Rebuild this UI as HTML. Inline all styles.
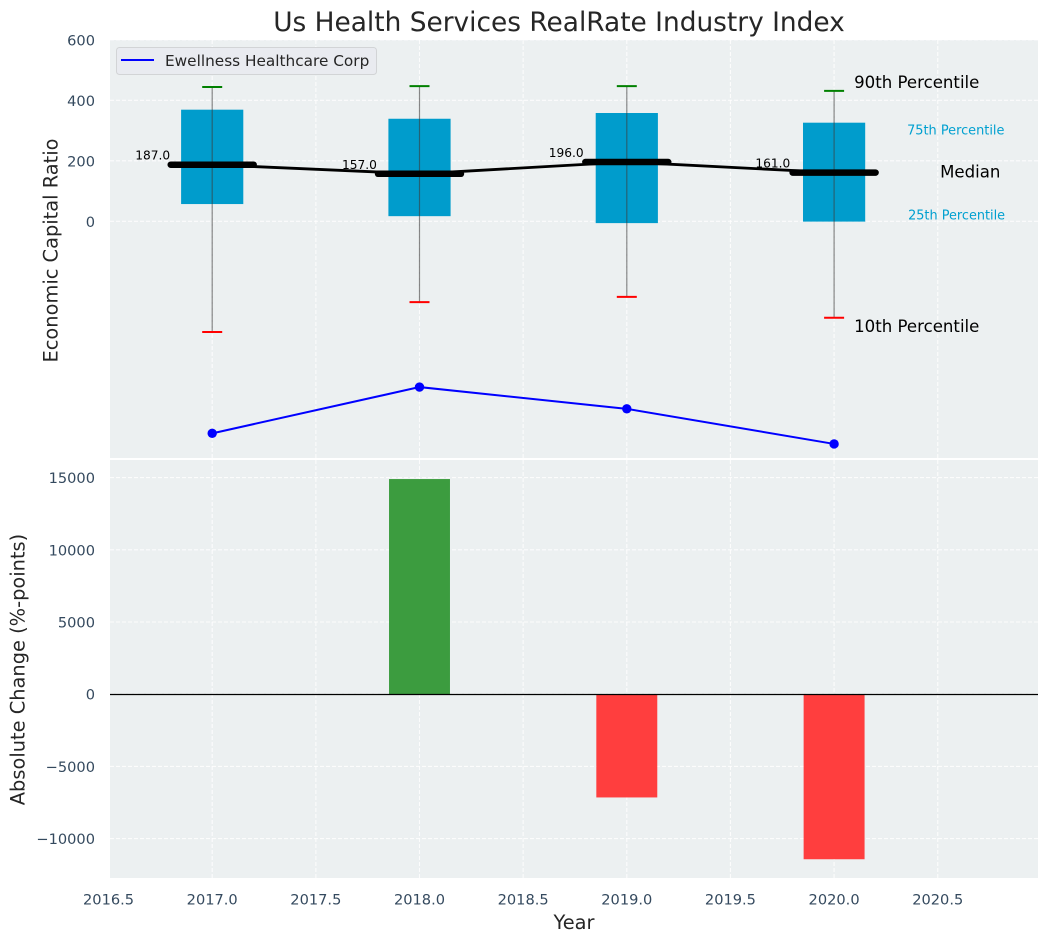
<!DOCTYPE html>
<html lang="en">
<head>
<meta charset="utf-8">
<title>Us Health Services RealRate Industry Index</title>
<style>
html,body{margin:0;padding:0;background:#fff;width:1048px;height:942px;overflow:hidden}
svg{display:block;font-family:"DejaVu Sans","Liberation Sans",sans-serif}
</style>
</head>
<body>
<svg id="chart" xmlns="http://www.w3.org/2000/svg" width="1048" height="942" viewBox="0 0 1048 942">
  <rect x="0" y="0" width="1048" height="942" fill="#ffffff"/>
  <rect x="110" y="40" width="928" height="418" fill="#ecf0f1"/>
  <rect x="110" y="460" width="928" height="418" fill="#ecf0f1"/>
  <g id="grid"></g>
  <g id="bars"></g>
  <line x1="110" x2="1038" y1="694.5" y2="694.5" stroke="#000" stroke-width="1.2"/>
  <g id="boxes"></g>
  <g id="series"></g>
  <g id="ticks"></g>

  <text x="559" y="31" text-anchor="middle" font-size="26.4" fill="#262626">Us Health Services RealRate Industry Index</text>
  <text transform="translate(57.5,250.5) rotate(-90)" text-anchor="middle" font-size="19.4" fill="#262626">Economic Capital Ratio</text>
  <text transform="translate(24.5,669.5) rotate(-90)" text-anchor="middle" font-size="19.4" fill="#262626">Absolute Change (%-points)</text>
  <text x="574" y="929" text-anchor="middle" font-size="19.4" fill="#262626">Year</text>

  <g>
    <rect x="116.5" y="47.5" width="260" height="27" rx="3" fill="#e9ebf0" stroke="#d2d4d6" stroke-width="1"/>
    <line x1="121" x2="154" y1="60" y2="60" stroke="#0000ff" stroke-width="2"/>
    <text x="165" y="66" font-size="15.3" fill="#262626">Ewellness Healthcare Corp</text>
  </g>

  <text id="ann90" font-size="16.6" fill="#000">90th Percentile</text>
  <text id="ann75" font-size="12.9" fill="#00a0d0">75th Percentile</text>
  <text id="annMed" font-size="16.6" fill="#000">Median</text>
  <text id="ann25" font-size="12.85" fill="#00a0d0">25th Percentile</text>
  <text id="ann10" font-size="16.6" fill="#000">10th Percentile</text>
</svg>
<script>
const years = [2017, 2018, 2019, 2020];
const p90 = [444, 447, 447, 431];
const p75 = [369, 339, 358, 326];
const medians = [187, 157, 196, 161];
const p25 = [57, 17, -6, -1];
const p10 = [-366, -267, -250, -319];
const company = [-701, -548, -620, -736];
const changes = [0, 14900, -7150, -11430];
const xTicks = [2016.5, 2017, 2017.5, 2018, 2018.5, 2019, 2019.5, 2020, 2020.5];
const topYTicks = [600, 400, 200, 0];
const bottomYTicks = [15000, 10000, 5000, 0, -5000, -10000];

const NS = 'http://www.w3.org/2000/svg';
function x(v) { return 212.2 + (v - 2017) * 207.3; }
function yTop(v) { return 221.3 - v * 0.3025; }
function yBottom(v) { return 694.2 - v * 0.014440; }

function make(parent, tag, props, text) {
  const el = document.createElementNS(NS, tag);
  for (const k in props) el.setAttribute(k, props[k]);
  if (text !== undefined) el.textContent = text;
  parent.appendChild(el);
  return el;
}

const gridG = document.getElementById('grid');
const barsG = document.getElementById('bars');
const boxesG = document.getElementById('boxes');
const seriesG = document.getElementById('series');
const ticksG = document.getElementById('ticks');
const gridStyle = { stroke: '#ffffff', 'stroke-width': 1.1, 'stroke-dasharray': '4 2', opacity: 0.85 };

xTicks.forEach(function (t) {
  if (x(t) >= 110) {
    const a = make(gridG, 'line', Object.assign({ x1: x(t), x2: x(t), y1: 40, y2: 458 }, gridStyle));
    
    
    const b = make(gridG, 'line', Object.assign({ x1: x(t), x2: x(t), y1: 460, y2: 878 }, gridStyle));
    
    
  }
  const label = make(ticksG, 'text', { x: x(t), y: 904.5, 'text-anchor': 'middle', 'font-size': 14.6, fill: '#34495e' }, t.toFixed(1));
  
  
});

topYTicks.forEach(function (t) {
  const a = make(gridG, 'line', Object.assign({ x1: 110, x2: 1038, y1: yTop(t), y2: yTop(t) }, gridStyle));
  
  
  const label = make(ticksG, 'text', { x: 95, y: yTop(t) + 5.5, 'text-anchor': 'end', 'font-size': 14.6, fill: '#34495e' }, String(t));
  
  
});

bottomYTicks.forEach(function (t) {
  const a = make(gridG, 'line', Object.assign({ x1: 110, x2: 1038, y1: yBottom(t), y2: yBottom(t) }, gridStyle));
  
  
  const text = t < 0 ? '\u2212' + Math.abs(t) : String(t);
  const label = make(ticksG, 'text', { x: 95, y: yBottom(t) + 5.5, 'text-anchor': 'end', 'font-size': 14.6, fill: '#34495e' }, text);
  
  
});

changes.forEach(function (c, i) {
  if (c === 0) return;
  const y0 = yBottom(Math.max(c, 0));
  const y1 = yBottom(Math.min(c, 0));
  const bar = make(barsG, 'rect', {
    x: x(years[i] - 0.147), y: y0, width: x(years[i] + 0.147) - x(years[i] - 0.147), height: y1 - y0,
    fill: c >= 0 ? '#3c9c3f' : '#ff3e3e'
  });
  
  
});

years.forEach(function (yr, i) {
  const cx = x(yr);
  const box = make(boxesG, 'rect', {
    x: x(yr - 0.15), y: yTop(p75[i]), width: x(yr + 0.15) - x(yr - 0.15), height: yTop(p25[i]) - yTop(p75[i]),
    fill: '#009ccc'
  });
  
  
  const whisker = make(boxesG, 'line', { x1: cx, x2: cx, y1: yTop(p90[i]), y2: yTop(p10[i]), stroke: '#3c3c3c', 'stroke-width': 1.2, opacity: 0.6 });
  
  
  const capHi = make(boxesG, 'line', { x1: cx - 10, x2: cx + 10, y1: yTop(p90[i]), y2: yTop(p90[i]), stroke: '#008000', 'stroke-width': 2 });
  
  
  const capLo = make(boxesG, 'line', { x1: cx - 10, x2: cx + 10, y1: yTop(p10[i]), y2: yTop(p10[i]), stroke: '#ff0000', 'stroke-width': 2 });
  
  
});

const medPath = make(seriesG, 'polyline', {
  points: years.map(function (yr, i) { return x(yr) + ',' + yTop(medians[i]); }).join(' '),
  fill: 'none', stroke: '#000', 'stroke-width': 2.8
});



years.forEach(function (yr, i) {
  const seg = make(seriesG, 'line', {
    x1: x(yr - 0.2), x2: x(yr + 0.2), y1: yTop(medians[i]), y2: yTop(medians[i]),
    stroke: '#000', 'stroke-width': 6.5, 'stroke-linecap': 'round'
  });
  
  
  const label = make(seriesG, 'text', {
    x: x(yr) - 42 - i * 0.6, y: yTop(medians[i]) - 5, 'text-anchor': 'end', 'font-size': 12.2, fill: '#000'
  }, medians[i].toFixed(1));
  
  
});

const compLine = make(seriesG, 'polyline', {
  points: years.map(function (yr, i) { return x(yr) + ',' + yTop(company[i]); }).join(' '),
  fill: 'none', stroke: '#0000ff', 'stroke-width': 2
});



years.forEach(function (yr, i) {
  const dot = make(seriesG, 'circle', { cx: x(yr), cy: yTop(company[i]), r: 4.7, fill: '#0000ff' });
  
  
});

function place(id, px, py) {
  const el = document.getElementById(id);
  el.setAttribute('x', px);
  el.setAttribute('y', py);
}
const last = years.length - 1;
const lx = x(years[last]);
place('ann90', lx + 20, yTop(p90[last]) - 3);
place('ann75', lx + 73, yTop(p75[last]) + 12);
place('annMed', lx + 106, yTop(medians[last]) + 5);
place('ann25', lx + 74, yTop(p25[last]) - 2);
place('ann10', lx + 20, yTop(p10[last]) + 14);
</script>
</body>
</html>
